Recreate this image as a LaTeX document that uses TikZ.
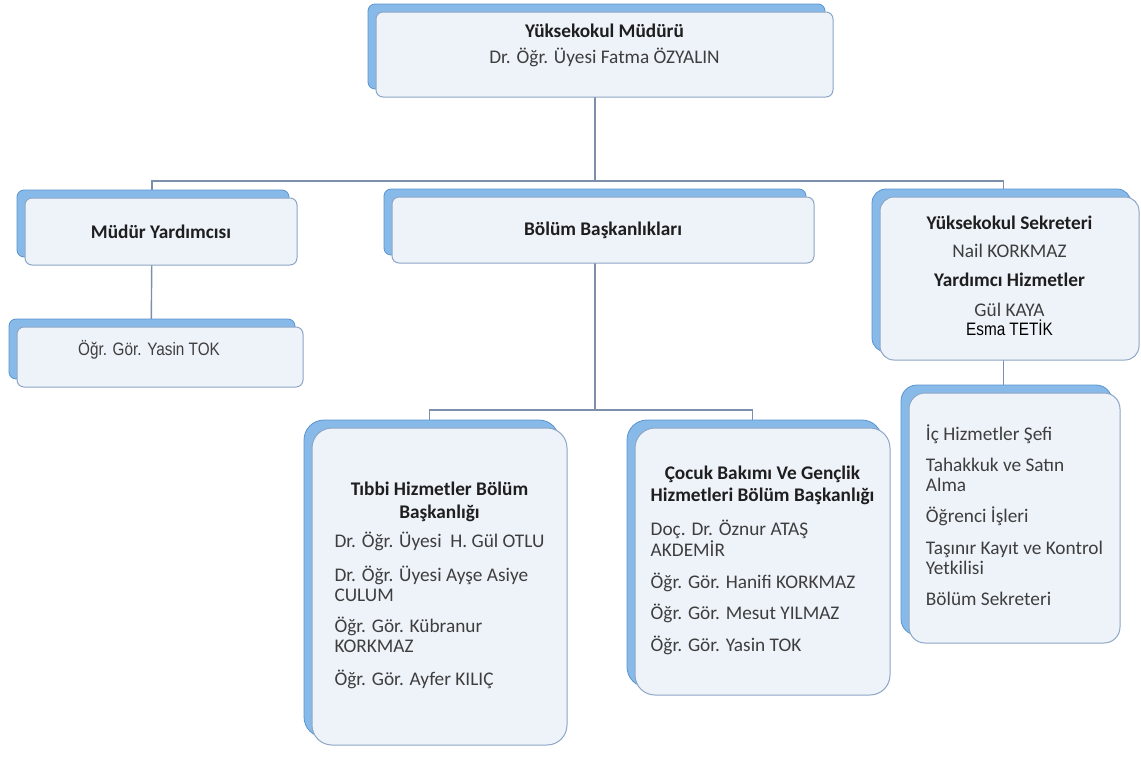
\documentclass[tikz,border=0pt]{standalone}
\usepackage{fontspec}
\setmainfont{Carlito}
\newfontfamily\narrowfont[FakeStretch=0.85]{Liberation Sans}
\usetikzlibrary{shadows,backgrounds}
\definecolor{backblue}{HTML}{88BAE9}
\definecolor{backedge}{HTML}{5A93D0}
\definecolor{boxfill}{HTML}{EEF3FA}
\definecolor{boxedge}{HTML}{8DA6C6}
\definecolor{linkgray}{HTML}{7D90AB}
\definecolor{txtgray}{HTML}{3E3E3E}
\definecolor{headink}{HTML}{1E1E1E}
\newcommand{\hd}[1]{{\bfseries\color{headink}#1}}
\newcommand{\mc}[1]{\multicolumn{1}{@{}c@{}}{#1}}
\begin{document}
\begin{tikzpicture}[x=1pt,y=-1pt]
        % Define styles
        \tikzset{
            orgbox/.style={draw=boxedge, fill=boxfill, line width=1pt, rounded corners=7pt,
                inner sep=0pt, text=txtgray, font=\fontsize{19.3}{20}\selectfont,
                copy shadow={shadow xshift=-8pt, shadow yshift=8pt, fill=backblue, draw=backedge, line width=0.8pt}},
            tallbox/.style={orgbox, rounded corners=20pt},
            link/.style={draw=linkgray, line width=1.4pt}
        }
        \useasboundingbox (0,0) rectangle (1141,756);
        % Head of the school
        \node[orgbox, minimum width=457pt, minimum height=85pt] (mudur) at (604.5,54.5)
            {\raisebox{8pt}[\height][\depth]{\begin{tabular}{@{}c@{}}\hd{Yüksekokul Müdürü}\\[5pt] Dr. Öğr. Üyesi Fatma ÖZYALIN\end{tabular}}};
        % Second row
        \node[orgbox, minimum width=272pt, minimum height=67pt] (yard) at (161,231.5) {\hd{Müdür Yardımcısı}};
        \node[orgbox, minimum width=422pt, minimum height=66pt] (bolum) at (603,230) {\hd{Bölüm Başkanlıkları}};
        \node[orgbox, rounded corners=14pt, minimum width=259pt, minimum height=163pt] (sekr) at (1009.5,278.5)
            {\begin{tabular}{@{}c@{}}\hd{Yüksekokul Sekreteri}\\[8pt] Nail KORKMAZ\\[9pt] \hd{Yardımcı Hizmetler}\\[10pt] Gül KAYA\\[-2pt] {\narrowfont\fontsize{18}{20}\selectfont\color{black}Esma TETİK}\end{tabular}};
        % Deputy
        \node[orgbox, minimum width=286pt, minimum height=60pt] (tok) at (160,357)
            {\raisebox{7pt}[\height][\depth]{\narrowfont\fontsize{18}{20}\selectfont Öğr. Gör. Yasin TOK\hspace{22pt}}};
        % Departments
        \node[tallbox, minimum width=255pt, minimum height=317pt] (tibbi) at (439.5,586.5)
            {\begin{tabular}{@{}l@{}}
                \mc{\hd{Tıbbi Hizmetler Bölüm}}\\[3pt]
                \mc{\hd{Başkanlığı}}\\[8pt]
                Dr. Öğr. Üyesi\ \ H. Gül OTLU\\[12pt]
                Dr. Öğr. Üyesi Ayşe Asiye\\
                CULUM\\[10pt]
                Öğr. Gör. Kübranur\\
                KORKMAZ\\[12pt]
                Öğr. Gör. Ayfer KILIÇ
            \end{tabular}};
        \node[tallbox, minimum width=255pt, minimum height=267pt] (cocuk) at (762.5,561.5)
            {\begin{tabular}{@{}l@{}}
                \mc{\hd{Çocuk Bakımı Ve Gençlik}}\\[2pt]
                \mc{\hd{Hizmetleri Bölüm Başkanlığı}}\\[12pt]
                Doç. Dr. Öznur ATAŞ\\
                AKDEMİR\\[10pt]
                Öğr. Gör. Hanifi KORKMAZ\\[10pt]
                Öğr. Gör. Mesut YILMAZ\\[10pt]
                Öğr. Gör. Yasin TOK
            \end{tabular}};
        % Administrative units
        \node[tallbox, rounded corners=16pt, minimum width=211pt, minimum height=250pt] (idari) at (1014.5,518)
            {\begin{tabular}{@{}l@{}}
                İç Hizmetler Şefi\\[11pt]
                Tahakkuk ve Satın\\
                Alma\\[9pt]
                Öğrenci İşleri\\[12pt]
                Taşınır Kayıt ve Kontrol\\
                Yetkilisi\\[11pt]
                Bölüm Sekreteri
            \end{tabular}};
        % Connectors behind the boxes
        \coordinate (bus) at (0,181);
        \coordinate (split) at (0,410);
        \coordinate (stem) at (595,0);
        \begin{scope}[on background layer]
            \fill[white] (0,0) rectangle (1141,756);
            \draw[link] (stem |- mudur) -- (stem |- bus);
            \draw[link] ([xshift=-9pt]yard.center) |- ([xshift=-6pt]sekr.center |- bus) -- ([xshift=-6pt]sekr.center);
            \draw[link] (stem |- bolum) -- (stem |- split);
            \draw[link] ([xshift=-9pt]yard.center) -- ([xshift=-9pt]tok.center);
            \draw[link] ([xshift=-10pt]tibbi.center) |- ([xshift=-10pt]cocuk.center |- split) -- ([xshift=-10pt]cocuk.center);
            \draw[link] ([xshift=-6pt]sekr.center) -- ([xshift=-6pt]sekr.center |- idari.north);
        \end{scope}
    \end{tikzpicture}
\end{document}
